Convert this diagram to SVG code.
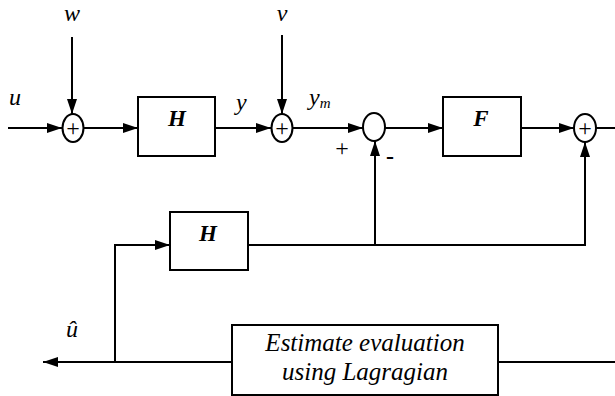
<svg xmlns="http://www.w3.org/2000/svg" width="615" height="396" viewBox="0 0 615 396">
<style>
.ln{fill:none;stroke:#000;stroke-width:2}
.bx{fill:#fff;stroke:#000;stroke-width:2}
.lbl{font-family:"Liberation Serif",serif;font-style:italic;font-size:24px;fill:#000}
.blk{font-family:"Liberation Serif",serif;font-style:italic;font-weight:bold;font-size:23px;fill:#000;text-anchor:middle}
.sgn{font-family:"Liberation Serif",serif;font-size:24px;fill:#000;text-anchor:middle}
.est{font-family:"Liberation Serif",serif;font-style:italic;font-size:25px;fill:#000;text-anchor:middle}
</style>
<defs>
<marker id="ar" markerUnits="userSpaceOnUse" markerWidth="16" markerHeight="10" refX="15" refY="5" orient="auto">
<path d="M0,0 L15,5 L0,10 Z" fill="#000"/>
</marker>
</defs>
<rect width="615" height="396" fill="#fff"/>
<g id="connectors">
<line class="ln" x1="8" y1="128" x2="62" y2="128" marker-end="url(#ar)"/>
<line class="ln" x1="72" y1="37" x2="72" y2="114" marker-end="url(#ar)"/>
<line class="ln" x1="83" y1="128" x2="138" y2="128" marker-end="url(#ar)"/>
<line class="ln" x1="215" y1="128" x2="271" y2="128" marker-end="url(#ar)"/>
<line class="ln" x1="282" y1="35" x2="282" y2="114" marker-end="url(#ar)"/>
<line class="ln" x1="293" y1="128" x2="363" y2="128" marker-end="url(#ar)"/>
<line class="ln" x1="385" y1="128" x2="443" y2="128" marker-end="url(#ar)"/>
<line class="ln" x1="521" y1="128" x2="574" y2="128" marker-end="url(#ar)"/>
<line class="ln" x1="596" y1="128" x2="615" y2="128"/>
<polyline class="ln" points="248,245 585,245 585,142" marker-end="url(#ar)"/>
<line class="ln" x1="375" y1="245" x2="375" y2="141" marker-end="url(#ar)"/>
<line class="ln" x1="498" y1="362" x2="615" y2="362"/>
<line class="ln" x1="232" y1="362" x2="43" y2="362" marker-end="url(#ar)"/>
<polyline class="ln" points="115,362 115,245 170,245" marker-end="url(#ar)"/>
</g>
<g id="label-u"><text class="lbl" x="9" y="105">u</text></g>
<g id="label-w"><text class="lbl" x="72" y="21" text-anchor="middle">w</text></g>
<g id="label-v"><text class="lbl" x="282" y="21" text-anchor="middle">v</text></g>
<g id="label-y"><text class="lbl" x="236" y="110">y</text></g>
<g id="label-ym"><text class="lbl" x="309" y="105" font-size="22">y<tspan font-size="15" dy="3">m</tspan></text></g>
<g id="label-uhat"><text class="lbl" x="66" y="337">û</text></g>
<g id="sum1">
<ellipse class="bx" cx="73" cy="128" rx="10.5" ry="14"/>
<text class="sgn" x="73" y="136">+</text>
</g>
<g id="H1">
<rect class="bx" x="138" y="97" width="77" height="59"/>
<text class="blk" x="177" y="126">H</text>
</g>
<g id="sum2">
<ellipse class="bx" cx="282" cy="128" rx="10.5" ry="14"/>
<text class="sgn" x="282" y="136">+</text>
</g>
<g id="comparator">
<ellipse class="bx" cx="374" cy="127" rx="11" ry="14"/>
<text class="sgn" x="342" y="156">+</text>
<text class="sgn" x="390" y="164" font-size="22" font-weight="bold">-</text>
</g>
<g id="F">
<rect class="bx" x="443" y="97" width="78" height="59"/>
<text class="blk" x="481" y="126">F</text>
</g>
<g id="sum3">
<ellipse class="bx" cx="585" cy="128" rx="11" ry="14"/>
<text class="sgn" x="585" y="136">+</text>
</g>
<g id="H2">
<rect class="bx" x="170" y="212" width="78" height="58"/>
<text class="blk" x="208" y="241">H</text>
</g>
<g id="estimator">
<rect class="bx" x="232" y="325" width="266" height="70"/>
<text class="est" x="365" y="351">Estimate evaluation<tspan x="365" dy="29">using Lagragian</tspan></text>
</g>
</svg>
